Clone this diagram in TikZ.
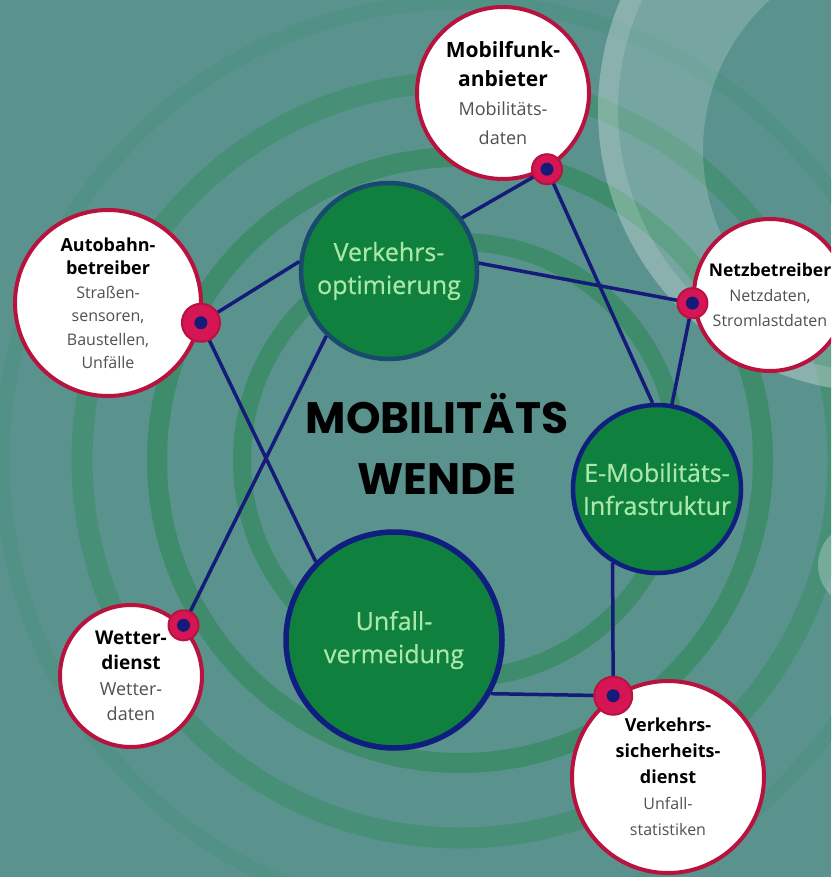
\documentclass[tikz,border=0pt]{standalone}
\usepackage{fontspec}
\setmainfont{Open Sans}
\newfontfamily\wendefont{Poppins}
\newfontfamily\hubfont[FakeBold=0.5]{Open Sans}
\usetikzlibrary{calc}

\definecolor{bgteal}{RGB}{90,146,141}
\definecolor{ringgreen}{RGB}{62,140,108}
\definecolor{ringpale}{RGB}{72,143,120}
\definecolor{ringfaint}{RGB}{82,145,133}
\definecolor{hubgreen}{RGB}{16,128,62}
\definecolor{hubtext}{RGB}{170,232,168}
\definecolor{hubnavy}{RGB}{16,30,128}
\definecolor{hubdeep}{RGB}{24,74,110}
\definecolor{srcred}{RGB}{184,18,62}
\definecolor{dotred}{RGB}{214,22,84}
\definecolor{linknavy}{RGB}{22,26,120}
\definecolor{subgray}{RGB}{80,80,80}

\begin{document}
\begin{tikzpicture}[x=1pt, y=-1pt,
        ring/.style={draw=ringgreen, line width=20pt},
        hub/.style={circle, fill=hubgreen, draw=hubnavy, line width=4.5pt, inner sep=0pt,
            text=hubtext, align=center, font=\hubfont\fontsize{25}{33}\selectfont},
        source/.style={circle, fill=white, draw=srcred, line width=4pt, inner sep=0pt,
            align=center, text=black},
        link/.style={linknavy, line width=3.5pt},
        port/.style={circle, fill=dotred, draw=srcred, line width=2pt, inner sep=0pt},
        portcore/.style={circle, fill=linknavy, inner sep=0pt, minimum size=13pt},
        ]

    \useasboundingbox (0,0) rectangle (831,877);
    \clip (0,0) rectangle (831,877);
    \fill[bgteal] (0,0) rectangle (831,877);

    % rings
    \coordinate (mitte) at (460,460);
    \draw[ring, draw=ringfaint, line width=15pt] (mitte) circle[radius=458pt];
    \draw[ring, draw=ringpale, line width=21pt] (mitte) circle[radius=378pt];
    \draw[ring] (mitte) circle[radius=303pt];
    \draw[ring, line width=18pt] (mitte) circle[radius=218pt];

    % light shapes top right
    \fill[white, opacity=.18, even odd rule] (880,110) circle[radius=282pt] (905,150) circle[radius=202pt];
    \draw[white, opacity=.14, line width=20pt] (880,110) circle[radius=272pt];
    \fill[white, opacity=.25] (860,565) circle[radius=42pt];

    % hubs
    \node[hub, draw=hubdeep, minimum size=176pt] (verk) at (389,271) {Verkehrs-\\optimierung};
    \node[hub, minimum size=168pt] (emob) at (657,489) {E-Mobilitäts-\\Infrastruktur};
    \node[hub, line width=5.5pt, minimum size=216pt] (unfall) at (394,640) {Unfall-\\vermeidung};

    % sources
    \node[source, minimum size=172pt, font=\fontsize{18}{29}\selectfont] (mobil) at (503,93)
        {{\bfseries\fontsize{21}{29}\selectfont Mobilfunk-}\\{\bfseries\fontsize{21}{29}\selectfont anbieter}\\
         {\color{subgray}Mobilitäts-}\\{\color{subgray}daten}};
    \node[source, minimum size=186pt, font=\fontsize{16}{23.5}\selectfont] (auto) at (108,303)
        {{\bfseries\fontsize{18}{23.5}\selectfont Autobahn-}\\{\bfseries\fontsize{18}{23.5}\selectfont betreiber}\\
         {\color{subgray}Straßen-}\\{\color{subgray}sensoren,}\\{\color{subgray}Baustellen,}\\{\color{subgray}Unfälle}};
    \node[source, minimum size=152pt, font=\fontsize{16}{25}\selectfont] (netz) at (770,295)
        {{\bfseries\fontsize{17.5}{25}\selectfont Netzbetreiber}\\
         {\color{subgray}Netzdaten,}\\{\color{subgray}Stromlastdaten}};
    \node[source, minimum size=142pt, font=\fontsize{18}{25.5}\selectfont] (wetter) at (131,676)
        {{\bfseries\fontsize{19}{25.5}\selectfont Wetter-}\\{\bfseries\fontsize{19}{25.5}\selectfont dienst}\\
         {\color{subgray}Wetter-}\\{\color{subgray}daten}};
    \node[source, minimum size=192pt, font=\fontsize{16}{26}\selectfont] (sicher) at (668,777)
        {{\bfseries\fontsize{18}{26}\selectfont Verkehrs-}\\{\bfseries\fontsize{18}{26}\selectfont sicherheits-}\\
         {\bfseries\fontsize{18}{26}\selectfont dienst}\\
         {\color{subgray}Unfall-}\\{\color{subgray}statistiken}};

    % ports on the sources
    \coordinate (pMobil) at (mobil.-60);
    \coordinate (pAuto) at (auto.-12);
    \coordinate (pNetz) at (netz.186);
    \coordinate (pWetter) at (wetter.44);
    \coordinate (pSicher) at (sicher.124);

    % links
    \draw[link] (pAuto) -- (verk.174);
    \draw[link] (pAuto) -- (unfall.135);
    \draw[link] (pMobil) -- (verk.36);
    \draw[link] (pMobil) -- (emob.93);
    \draw[link] (pNetz) -- (verk.5);
    \draw[link] (pNetz) -- (emob.80);
    \draw[link] (pWetter) -- (verk.-134);
    \draw[link] (pSicher) -- (unfall.-29);
    \draw[link] (pSicher) -- (emob.-121);

    \foreach \p/\s in {pMobil/30, pAuto/38, pNetz/30, pWetter/30, pSicher/38} {
        \node[port, minimum size=\s pt] (d\p) at (\p) {};
        \node[portcore] (c\p) at (\p) {};
    }

    \node[font=\wendefont\bfseries\fontsize{44}{61}\selectfont, align=center] (titel) at (437,444)
        {MOBILITÄTS\\WENDE};
\end{tikzpicture}
\end{document}
